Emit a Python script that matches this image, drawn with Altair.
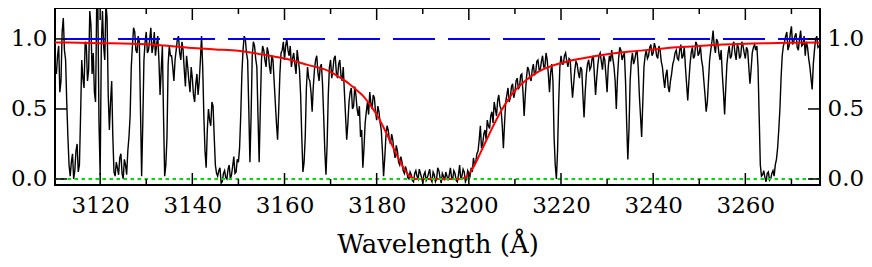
import altair as alt
import pandas as pd

# ---- observed spectrum (normalised flux), sampled every 0.25 A from 3110.5 A ----
WAVE_START = 3110.5
WAVE_STEP = 0.25
flux = [
    0.75, 0.88, 0.95, 0.62, 0.70, 1.05, 1.15, 0.92, 0.85, 0.55, 0.30, 0.10, 0.02, 0.12, 0.18, 0.00, 0.06, 0.20, 0.25, 0.05,        # 3110.5
    0.10, 0.45, 0.85, 0.72, 0.65, 0.98, 0.95, 0.70, 0.78, 1.20, 1.10, 0.75, 0.90, 0.62, 0.55, 1.25, 1.22, 0.40, 0.03, 0.95,        # 3115.5
    1.20, 0.95, 0.85, 1.25, 1.15, 0.60, 0.35, 0.55, 0.70, 0.30, 0.05, 0.02, 0.12, 0.08, 0.03, 0.15, 0.18, 0.04, 0.00, 0.14,        # 3120.5
    0.10, 0.03, 0.20, 0.30, 0.45, 0.80, 0.95, 1.08, 1.05, 0.92, 0.90, 1.02, 0.98, 0.50, 0.02, 0.40, 0.85, 0.98, 1.05, 0.90,        # 3125.5
    0.92, 1.00, 1.08, 0.90, 0.95, 1.05, 0.88, 0.96, 1.02, 0.85, 0.60, 0.78, 0.95, 0.45, 0.02, 0.10, 0.30, 0.82, 0.95, 0.88,        # 3130.5
    0.88, 0.80, 0.70, 0.85, 0.92, 1.00, 1.02, 0.90, 0.85, 0.98, 0.92, 0.78, 0.66, 0.88, 0.80, 0.70, 0.62, 0.80, 0.72, 0.60,        # 3135.5
    0.55, 0.68, 0.75, 0.60, 0.70, 0.85, 1.02, 0.80, 0.45, 0.20, 0.08, 0.35, 0.50, 0.42, 0.38, 0.55, 0.52, 0.30, 0.10, 0.04,        # 3140.5
    0.02, 0.06, 0.08, -0.03, -0.02, 0.04, 0.06, 0.01, 0.00, 0.07, 0.10, 0.00, 0.03, 0.09, 0.16, 0.04, 0.05, 0.14, 0.12, 0.22,      # 3145.5
    0.45, 0.75, 0.92, 1.02, 1.00, 0.90, 0.85, 0.50, 0.12, 0.45, 0.88, 0.98, 0.95, 0.86, 0.80, 0.45, 0.12, 0.50, 0.85, 0.95,        # 3150.5
    0.92, 0.85, 0.80, 0.94, 0.90, 0.80, 0.75, 0.88, 0.85, 0.70, 0.55, 0.40, 0.28, 0.50, 0.75, 0.90, 0.92, 0.98, 0.85, 0.95,        # 3155.5
    1.00, 0.92, 0.88, 0.95, 0.80, 0.86, 0.90, 0.82, 0.75, 0.92, 0.85, 0.78, 0.60, 0.30, 0.05, 0.12, 0.30, 0.65, 0.80, 0.72,        # 3160.5
    0.70, 0.62, 0.48, 0.66, 0.78, 0.85, 0.88, 0.76, 0.70, 0.80, 0.82, 0.68, 0.45, 0.20, 0.03, 0.25, 0.60, 0.80, 0.85, 0.72,        # 3165.5
    0.78, 0.86, 0.88, 0.76, 0.72, 0.82, 0.85, 0.74, 0.70, 0.80, 0.62, 0.45, 0.28, 0.40, 0.55, 0.62, 0.65, 0.50, 0.52, 0.66,        # 3170.5
    0.60, 0.50, 0.45, 0.52, 0.30, 0.35, 0.08, 0.22, 0.40, 0.48, 0.55, 0.46, 0.62, 0.54, 0.50, 0.60, 0.58, 0.48, 0.42, 0.52,        # 3175.5
    0.48, 0.40, 0.35, 0.20, 0.02, 0.15, 0.30, 0.38, 0.35, 0.28, 0.25, 0.32, 0.28, 0.20, 0.15, 0.24, 0.20, 0.12, 0.10, 0.16,        # 3180.5
    0.12, 0.06, 0.04, 0.09, 0.06, 0.01, 0.00, 0.05, 0.03, -0.01, -0.02, 0.04, 0.06, 0.02, 0.00, 0.07, 0.04, 0.01, -0.03, 0.03,     # 3185.5
    0.05, -0.01, 0.01, 0.04, 0.07, 0.00, -0.02, 0.05, 0.03, -0.02, 0.00, 0.08, 0.06, 0.01, -0.03, 0.04, 0.02, -0.01, 0.05, 0.02,   # 3190.5
    -0.01, 0.03, 0.08, 0.01, 0.00, 0.06, 0.04, -0.01, -0.02, 0.03, 0.10, 0.00, 0.02, 0.07, 0.05, -0.02, 0.00, 0.06, 0.04, 0.02,    # 3195.5
    0.08, 0.05, 0.15, 0.10, 0.12, 0.18, 0.20, 0.28, 0.38, 0.22, 0.25, 0.32, 0.35, 0.28, 0.42, 0.38, 0.36, 0.45, 0.48, 0.40,        # 3200.5
    0.55, 0.50, 0.45, 0.56, 0.60, 0.52, 0.50, 0.38, 0.22, 0.40, 0.55, 0.60, 0.65, 0.55, 0.58, 0.66, 0.68, 0.58, 0.62, 0.70,        # 3205.5
    0.72, 0.64, 0.66, 0.74, 0.75, 0.62, 0.45, 0.60, 0.72, 0.80, 0.78, 0.72, 0.70, 0.78, 0.82, 0.74, 0.76, 0.84, 0.85, 0.78,        # 3210.5
    0.78, 0.84, 0.88, 0.80, 0.80, 0.90, 0.85, 0.75, 0.62, 0.76, 0.82, 0.70, 0.30, 0.10, 0.00, 0.20, 0.55, 0.80, 0.88, 0.82,        # 3215.5
    0.82, 0.88, 0.90, 0.84, 0.80, 0.86, 0.85, 0.70, 0.58, 0.68, 0.78, 0.84, 0.82, 0.76, 0.72, 0.80, 0.78, 0.60, 0.44, 0.62,        # 3220.5
    0.75, 0.82, 0.85, 0.78, 0.80, 0.86, 0.88, 0.74, 0.60, 0.72, 0.82, 0.88, 0.90, 0.84, 0.78, 0.88, 0.85, 0.74, 0.62, 0.80,        # 3225.5
    0.88, 0.84, 0.92, 0.86, 0.80, 0.70, 0.50, 0.72, 0.86, 0.94, 0.92, 0.85, 0.88, 0.90, 0.70, 0.40, 0.14, 0.35, 0.70, 0.84,        # 3230.5
    0.90, 0.82, 0.85, 0.90, 0.92, 0.80, 0.60, 0.45, 0.30, 0.55, 0.80, 0.88, 0.92, 0.86, 0.88, 0.94, 0.96, 0.88, 0.90, 0.97,        # 3235.5
    0.94, 0.88, 0.86, 0.95, 0.92, 0.84, 0.80, 0.72, 0.65, 0.74, 0.78, 0.66, 0.62, 0.70, 0.75, 0.82, 0.85, 0.90, 0.92, 0.86,        # 3240.5
    0.85, 0.92, 0.96, 0.86, 0.88, 0.94, 0.80, 0.68, 0.56, 0.70, 0.82, 0.90, 0.94, 0.86, 0.88, 0.98, 0.96, 0.88, 0.90, 0.95,        # 3245.5
    0.85, 0.80, 0.70, 0.60, 0.48, 0.55, 0.70, 0.85, 0.92, 0.98, 1.06, 0.95, 0.90, 1.00, 0.98, 0.90, 0.85, 0.92, 0.75, 0.62,        # 3250.5
    0.46, 0.65, 0.82, 0.90, 0.95, 0.86, 0.88, 0.96, 0.98, 0.90, 0.85, 0.96, 0.94, 0.86, 0.88, 0.98, 0.95, 0.90, 0.86, 0.94,        # 3255.5
    0.92, 0.80, 0.68, 0.78, 0.90, 0.94, 0.96, 0.92, 0.95, 0.80, 0.45, 0.10, 0.02, 0.03, 0.06, 0.01, -0.02, 0.04, 0.05, -0.01,      # 3260.5
    0.00, 0.04, 0.06, 0.02, 0.10, 0.14, 0.22, 0.35, 0.50, 0.72, 0.88, 0.95, 0.98, 1.02, 1.05, 0.92, 0.95, 1.04, 1.09, 0.96,        # 3265.5
    0.98, 1.02, 1.04, 0.94, 0.92, 1.00, 1.06, 0.95, 0.96, 1.02, 0.88, 0.98, 0.94, 0.86, 0.80, 0.72, 0.64, 0.82, 0.92, 1.00,        # 3270.5
    1.02, 0.94, 0.95,                                                                                                              # 3275.5
]
wave = [WAVE_START + WAVE_STEP * i for i in range(len(flux))]

# ---- damped Lyman-alpha profile fit (red) ----
fit_wave = [3110, 3120, 3130, 3140, 3145, 3150, 3155, 3160, 3165, 3170, 3172,
            3174, 3176, 3177, 3178, 3179, 3180, 3181, 3182, 3183, 3184, 3185,
            3186, 3187, 3188, 3188.5, 3198, 3199, 3200, 3201, 3202, 3203, 3204,
            3205, 3206, 3207, 3208, 3209, 3210, 3211, 3212, 3215, 3218, 3222,
            3226, 3230, 3235, 3240, 3245, 3250, 3255, 3260, 3265, 3270, 3277]
fit_flux = [0.975, 0.970, 0.962, 0.935, 0.925, 0.915, 0.890, 0.860, 0.815, 0.765, 0.725,
            0.680, 0.625, 0.595, 0.555, 0.510, 0.460, 0.400, 0.335, 0.265, 0.195, 0.130,
            0.070, 0.025, 0.004, 0.000, 0.000, 0.008, 0.035, 0.085, 0.150, 0.220, 0.290,
            0.360, 0.425, 0.485, 0.540, 0.590, 0.630, 0.665, 0.695, 0.765, 0.808, 0.845,
            0.870, 0.890, 0.910, 0.925, 0.940, 0.950, 0.960, 0.965, 0.970, 0.972, 0.975]

continuum_level = [1.0]
zero_level = [0.0]

x_major = [3120, 3140, 3160, 3180, 3200, 3220, 3240, 3260]
x_minor = [3130, 3150, 3170, 3190, 3210, 3230, 3250, 3270]
y_major = [0.0, 0.5, 1.0]

W, H = 765, 177
LABEL_FONT = "DejaVu Serif"

xs = alt.Scale(domain=[3110.2, 3276.2], nice=False, zero=False)
ys = alt.Scale(domain=[-0.043, 1.221], nice=False, zero=False)

spec_df = pd.DataFrame({"wave": wave, "flux": flux})
fit_df = pd.DataFrame({"wave": fit_wave, "flux": fit_flux})

x_axis = alt.Axis(values=x_major, format="d", ticks=False, tickSize=0, domain=False,
                  grid=False, labelPadding=9, title="Wavelength (Å)", titlePadding=14)

spectrum = alt.Chart(spec_df).mark_line(color="black", strokeWidth=1.4, clip=True).encode(
    x=alt.X("wave:Q", scale=xs, axis=x_axis),
    y=alt.Y("flux:Q", scale=ys, axis=None),
)
fit = alt.Chart(fit_df).mark_line(color="#ff0000", strokeWidth=2, clip=True,
                                  interpolate="monotone").encode(
    x=alt.X("wave:Q", scale=xs, axis=None),
    y=alt.Y("flux:Q", scale=ys, axis=None),
)
cont = alt.Chart(pd.DataFrame({"level": continuum_level})).mark_rule(
    color="#0000ff", strokeWidth=2, strokeDash=[42, 13]).encode(
    y=alt.Y("level:Q", scale=ys, axis=None))
zero = alt.Chart(pd.DataFrame({"level": zero_level})).mark_rule(
    color="#00e000", strokeWidth=2, strokeDash=[3.5, 3.5]).encode(
    y=alt.Y("level:Q", scale=ys, axis=None))

xmaj_df = pd.DataFrame({"t": x_major})
xmin_df = pd.DataFrame({"t": x_minor})
ymaj_df = pd.DataFrame({"t": y_major})


def xticks(df, y0, y1):
    return alt.Chart(df).mark_rule(color="black", strokeWidth=1.5).encode(
        x=alt.X("t:Q", scale=xs, axis=None), y=alt.value(y0), y2=alt.value(y1))


tick_layers = [
    xticks(xmaj_df, 0, 12), xticks(xmaj_df, H, H - 12),
    xticks(xmin_df, 0, 6), xticks(xmin_df, H, H - 6),
]

yleft = alt.Chart(ymaj_df).mark_rule(color="black", strokeWidth=1.5).encode(
    y=alt.Y("t:Q", scale=ys, axis=alt.Axis(orient="left", values=y_major, format=".1f",
                                            ticks=False, tickSize=0, domain=False, grid=False,
                                            labelPadding=8, title=None)),
    x=alt.value(0), x2=alt.value(12))
yright = alt.Chart(ymaj_df).mark_rule(color="black", strokeWidth=1.5).encode(
    y=alt.Y("t:Q", scale=ys, axis=alt.Axis(orient="right", values=y_major, format=".1f",
                                            ticks=False, tickSize=0, domain=False, grid=False,
                                            labelPadding=7, title=None)),
    x=alt.value(W - 12), x2=alt.value(W))

chart = alt.layer(spectrum, fit, cont, zero, *tick_layers, yleft, yright).resolve_axis(
    x="independent", y="independent"
).properties(
    width=W, height=H,
    autosize=alt.AutoSizeParams(type="none"),
    padding={"left": 47, "top": 0, "right": 44, "bottom": 74},
).configure_view(stroke="black", strokeWidth=2).configure_axis(
    labelFont=LABEL_FONT, labelFontSize=23, labelColor="black",
    titleFont=LABEL_FONT, titleFontSize=26, titleFontWeight="normal", titleColor="black",
)

chart.save("out.html", embed_options={"renderer": "svg", "actions": False})
